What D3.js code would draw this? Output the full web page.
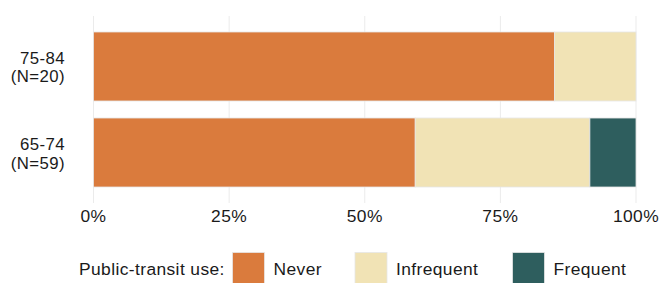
<!DOCTYPE html>
<html>
<head>
<meta charset="utf-8">
<script src="https://cdn.jsdelivr.net/npm/d3@7"></script>
<style>
  body { margin: 0; background: #fff; }
  text { font-family: "Liberation Sans", Arial, sans-serif; fill: #1a1a1a; letter-spacing: 0.4px; }
</style>
</head>
<body>
<div id="chart"></div>
<script>
// Data
const groups = ["75-84", "65-74"];
const groupN = [20, 59];
const categories = ["Never", "Infrequent", "Frequent"];
const never = [0.85, 0.593];
const infrequent = [0.15, 0.322];
const frequent = [0.0, 0.085];
const xTicks = [0, 0.25, 0.5, 0.75, 1];
const colors = ["#da7b3d", "#f1e3b5", "#2e5e5e"];

const width = 661, height = 283;
const fontSize = 17.4;

const svg = d3.select("#chart").append("svg")
  .attr("width", width)
  .attr("height", height);

const x = d3.scaleLinear().domain([0, 1]).range([93.5, 636]);
const y = d3.scaleBand().domain(groups).range([16, 203]).paddingInner(0.198).paddingOuter(0.186);

// grid lines
svg.append("g")
  .selectAll("line")
  .data(xTicks)
  .join("line")
  .attr("x1", d => x(d)).attr("x2", d => x(d))
  .attr("y1", 16).attr("y2", 203)
  .attr("stroke", "#ebebeb")
  .attr("stroke-width", 1);

// stacked bars
const rows = groups.map((g, i) => ({ group: g, Never: never[i], Infrequent: infrequent[i], Frequent: frequent[i] }));
const stack = d3.stack().keys(categories)(rows);

svg.append("g")
  .selectAll("g")
  .data(stack)
  .join("g")
  .attr("fill", (d, i) => colors[i])
  .selectAll("rect")
  .data(d => d.filter(s => s[1] - s[0] > 0))
  .join("rect")
  .attr("x", d => x(d[0]))
  .attr("width", d => x(d[1]) - x(d[0]))
  .attr("y", d => y(d.data.group))
  .attr("height", y.bandwidth())
  .attr("stroke", "#e6e6e6")
  .attr("stroke-width", 0.8);

// y labels, two lines each
const yLab = svg.append("g")
  .attr("text-anchor", "end")
  .attr("font-size", 16.8);
groups.forEach((g, i) => {
  const cy = y(g) + y.bandwidth() / 2;
  yLab.append("text").attr("x", 65).attr("y", cy - 2.5).text(g);
  yLab.append("text").attr("x", 65).attr("y", cy + 16).text(`(N=${groupN[i]})`);
});

// x axis labels
svg.append("g")
  .selectAll("text")
  .data(xTicks)
  .join("text")
  .attr("x", d => x(d))
  .attr("y", 222)
  .attr("text-anchor", "middle")
  .attr("font-size", fontSize)
  .text(d3.format(".0%"));

// legend
const legend = svg.append("g");
legend.append("text")
  .attr("x", 79).attr("y", 275)
  .attr("font-size", fontSize)
  .text("Public-transit use:");

const keyX = [232.5, 355, 512.5];
categories.forEach((c, i) => {
  legend.append("rect")
    .attr("x", keyX[i]).attr("y", 252.5)
    .attr("width", 32).attr("height", 32)
    .attr("fill", colors[i])
    .attr("stroke", "#e6e6e6")
    .attr("stroke-width", 0.8);
  legend.append("text")
    .attr("x", keyX[i] + 41).attr("y", 275)
    .attr("font-size", fontSize)
    .text(c);
});
</script>
</body>
</html>
